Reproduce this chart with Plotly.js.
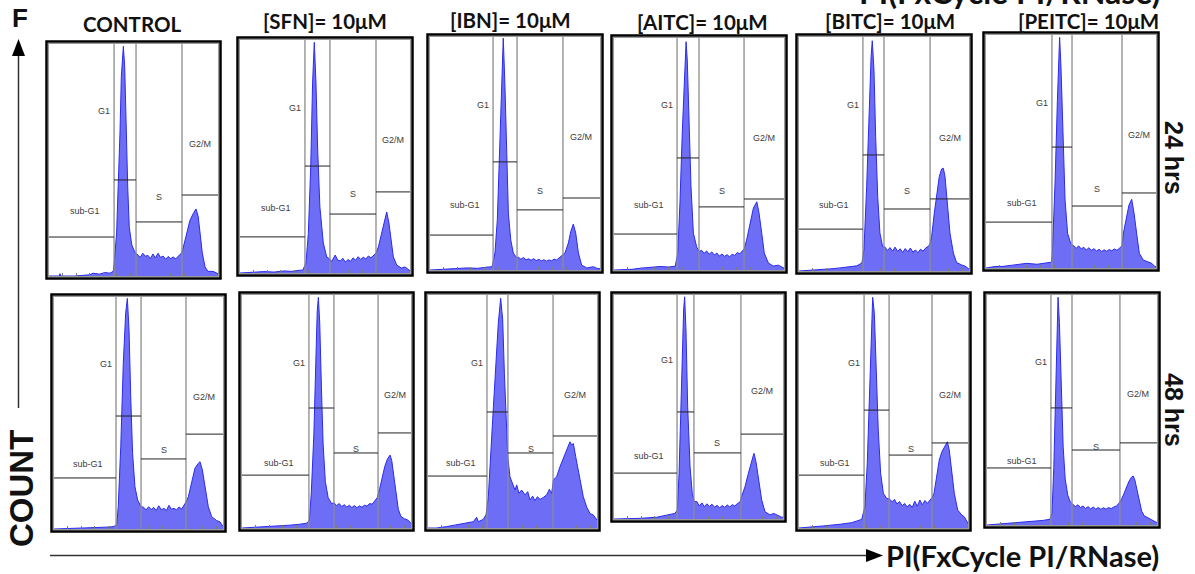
<!DOCTYPE html>
<html>
<head>
<meta charset="utf-8">
<script src="https://cdn.plot.ly/plotly-3.0.1.min.js"></script>
<style>
  html, body { margin: 0; padding: 0; background: #ffffff; }
  #fig { width: 1195px; height: 574px; }
</style>
</head>
<body>
<div id="fig"></div>
<script>
// ---- Column and row headings ----
const conditions = ['CONTROL', '[SFN]= 10μM', '[IBN]= 10μM', '[AITC]= 10μM', '[BITC]= 10μM', '[PEITC]= 10μM'];
const timepoints = ['24 hrs', '48 hrs'];
const gateNames = ['sub-G1', 'G1', 'S', 'G2/M'];
const axisLabelX = 'PI(FxCycle PI/RNase)';
const axisLabelY = 'COUNT';
const panelLetter = 'F';

// ---- DNA-content histograms: PI channel (0-100) vs. relative count (0-100) ----
// 24 h
const ctl24_ch = [0, 6, 6.5, 7, 15, 24, 26, 30, 33, 36, 38, 38.6, 40, 41, 42, 42.8, 44, 44.8, 45.6, 46.6, 47.5, 49, 50.9, 52, 54, 55.5, 57, 58.5, 60, 61.5, 63, 64.5, 66, 67.5, 69, 70.5, 72, 73.5, 75, 77, 78.5, 79.5, 81.5, 83.4, 85.4, 87, 88.3, 89.3, 90.7, 92.3, 94, 97, 99, 100];
const ctl24_ct = [0, 0, 1, 0, 0, 0.5, 1.2, 0.8, 1.5, 1.2, 2, 5.6, 18.5, 38, 61.6, 86, 99, 90, 61.6, 38, 21, 13.4, 10, 9.5, 8, 9.8, 8.5, 8.9, 7.5, 9.5, 7.8, 9.8, 8, 8.6, 7.2, 8.4, 7.5, 8.2, 7.4, 8.8, 10, 12.5, 18.5, 24, 27, 28.9, 25.6, 19.8, 10, 4, 2, 2, 1.5, 1];

const sfn24_ch = [0, 9, 14, 20, 26, 30, 34, 37, 38.8, 40.2, 41.6, 42.7, 43.7, 44.7, 45.7, 47, 49, 51, 52, 54, 56, 57.5, 59, 60.5, 62, 63.5, 65, 66.5, 68, 69.5, 71, 72.5, 74, 75.5, 77, 78.5, 80, 81.4, 83.3, 84.9, 86.3, 87.6, 88.8, 90.2, 92.2, 95, 97, 99, 100];
const sfn24_ct = [0, 0.3, 0.6, 0.4, 0.9, 0.7, 1.2, 1.3, 4.3, 17, 45.5, 81.5, 99, 81.5, 52.8, 28.3, 12.9, 6.9, 6.5, 5, 7.7, 5.5, 5.2, 6.3, 4.6, 5.8, 5, 6.5, 5.5, 7, 5.8, 6.8, 6, 7.3, 6.5, 7.5, 8.5, 11.2, 17, 22.7, 26.2, 21.5, 15.5, 6.9, 3.4, 2.1, 2.6, 1.5, 1];

const ibn24_ch = [0, 8, 15, 22, 28, 33, 36.5, 38.2, 39.6, 41.2, 42.2, 43.1, 44.1, 45.1, 46.1, 47.5, 49, 51, 52, 53.5, 55, 56.5, 58, 59.5, 61, 62.5, 64, 65.5, 67, 68.5, 70, 71.5, 73, 74.5, 76, 77.5, 79.4, 81.4, 82.8, 84.3, 85.7, 87.3, 89.2, 92.2, 94, 96, 98, 100];
const ibn24_ct = [0, 0.2, 0.6, 0.9, 0.7, 1.2, 1.4, 7.3, 21.5, 57, 86, 99.5, 78.7, 47.2, 24.4, 12.9, 7.3, 5.2, 5.5, 4.6, 5.4, 4.4, 4.8, 4.2, 4.9, 4, 4.6, 3.9, 4.4, 3.8, 4.3, 4, 4.6, 4.3, 5.2, 6.3, 7.3, 11.6, 16.5, 19.7, 15.9, 7.3, 2.1, 0.9, 1.1, 1.4, 0.8, 0.5];

const aitc24_ch = [0, 10.6, 16, 22, 27, 32, 36, 37.5, 38.8, 40.2, 41.4, 42.4, 43.1, 44.1, 45.3, 46.7, 48.6, 50, 51.5, 53, 54.5, 56, 57.5, 59, 60.5, 62, 63.5, 65, 66.5, 68, 69.5, 71, 72.5, 74, 75.5, 76.5, 78, 80, 82, 84, 85.3, 86.9, 88.4, 90.8, 93.7, 96.7, 98.6, 100];
const aitc24_ct = [0, 0.3, 0.8, 1.1, 1.5, 1.3, 1.6, 7.3, 28.9, 60, 86, 98.4, 90.5, 64.7, 35.9, 15.9, 10, 7.9, 8.5, 7.2, 8.2, 6.8, 7.8, 6.5, 7.3, 6, 6.9, 5.9, 6.6, 5.7, 6.8, 6.3, 7.5, 7, 8.2, 9, 12.9, 20.2, 26.7, 29.4, 24.6, 15.9, 7.3, 3, 1.7, 2.1, 1.2, 0.8];

const bitc24_ch = [0, 8, 14, 20, 25, 30, 34, 37, 38.2, 39.8, 41.2, 42.4, 43.1, 44.1, 45.1, 46.3, 47.6, 49.2, 50.5, 52, 53.5, 55, 56.5, 58, 59.5, 61, 62.5, 64, 65.5, 67, 68.5, 70, 71.5, 73, 74.5, 76, 77, 78, 79.6, 81, 82.5, 83.9, 84.9, 85.9, 87.2, 88.8, 90.8, 92.7, 95.7, 97.6, 99.6, 100];
const bitc24_ct = [0, 0.3, 0.7, 1, 1.4, 1.8, 2.2, 3.4, 9, 36, 67.5, 91.6, 98.4, 86, 57.4, 31.8, 16.2, 10.4, 10.3, 8.7, 10, 8.5, 10.2, 8.4, 9.5, 7.9, 9.6, 8.2, 9.8, 8.1, 9, 7.8, 9.3, 8.5, 9.8, 10.5, 11.5, 14.7, 24.8, 33.3, 40.3, 43.6, 43.9, 40.3, 29, 16.2, 7.7, 3.6, 2.6, 2.1, 1.1, 1];

const peitc24_ch = [0, 5, 10, 16, 24, 30, 35, 38.5, 39, 40.6, 42, 42.8, 43.3, 44.1, 45.1, 46.5, 48, 49.8, 51.5, 53, 54.5, 56, 57.5, 59, 60.5, 62, 63.5, 65, 66.5, 68, 69.5, 71, 72.5, 74, 75.5, 77, 78.5, 80, 80.8, 82.8, 84.1, 85.7, 87.1, 88.6, 90.2, 92.5, 95.5, 97.5, 99.4, 100];
const peitc24_ct = [0, 0.6, 0.7, 1.2, 2, 1.6, 2.2, 2.5, 6.3, 36.3, 72, 93.6, 99, 86.4, 57.8, 29.2, 14.9, 10.6, 9.6, 8.4, 9.5, 8.2, 8.9, 7.7, 8.7, 7.6, 8.3, 7.3, 8, 7.1, 7.8, 7.2, 7.9, 7.4, 8.2, 7.6, 8.5, 9.5, 14.9, 22, 27, 29.5, 23.5, 14.9, 6.3, 3.4, 2.7, 2, 0.6, 0.5];

// 48 h
const ctl48_ch = [0, 13.4, 20, 26, 31, 35, 37.1, 38, 39.5, 41, 42.4, 43.4, 44.4, 45.4, 46.5, 47.9, 49.5, 51.5, 53, 54.5, 56, 57.5, 59, 60.5, 62, 63.5, 65, 66.5, 68, 69.5, 71, 72.5, 74, 75.5, 77, 78, 79.5, 81.5, 83.4, 85.4, 86.4, 87.8, 89.3, 91.3, 93.3, 96.3, 98.2, 99.8, 100];
const ctl48_ct = [0, 0.3, 0.5, 0.4, 0.8, 1, 1.7, 9.6, 35.5, 71.4, 93, 99.4, 85.8, 57, 32.6, 18.2, 12.5, 9.6, 9.4, 8.2, 9.6, 8.4, 9.3, 8, 10, 8.3, 8.9, 8, 10.2, 8.5, 8.9, 8.2, 9.5, 8.6, 10.3, 11.5, 13.9, 21, 26.2, 28.3, 29, 25.4, 18.2, 9.6, 5.3, 3.6, 3.1, 1, 1];

const sfn48_ch = [0, 8, 15, 22, 28, 34, 38, 39.8, 41, 42.5, 43.5, 44.5, 45.2, 46, 47, 48, 49.3, 51, 53, 54.5, 56, 57.5, 59, 60.5, 62, 63.5, 65, 66.5, 68, 69.5, 71, 72.5, 74, 75.5, 77, 78.5, 80, 81.5, 83, 84.5, 86, 87.6, 88.6, 89.8, 91, 92.5, 94, 96, 98, 100];
const sfn48_ct = [0, 0.3, 0.6, 0.9, 1.2, 1.6, 2, 3, 15, 40, 70, 93, 99, 88, 60, 36, 20, 13, 10.5, 10.8, 9.6, 10.5, 9.2, 10, 9, 9.8, 8.8, 9.6, 8.7, 9.5, 8.9, 9.8, 9.4, 10.5, 10.2, 11.8, 13, 17, 22, 26.5, 29.5, 31.3, 29, 23, 15, 8, 5, 4, 3.5, 2];

const ibn48_ch = [0, 5, 11, 17, 23, 26.8, 28.8, 29.8, 32.7, 34.3, 35.7, 37.1, 38.7, 40.2, 41.6, 43, 44.2, 45.2, 46.2, 47.2, 48.5, 50.1, 51.5, 52.5, 53.8, 55.4, 57.4, 59, 60.4, 61.9, 63.3, 64.7, 66.3, 68.2, 70.2, 71.8, 73.2, 74.2, 76.1, 78.1, 79.7, 81.4, 83, 84, 85, 86, 87.4, 89, 90.5, 91.9, 93.9, 95.9, 97.8, 99.8, 100];
const ibn48_ct = [0, 0, 0.6, 1.3, 2.3, 2.7, 4.6, 2.7, 3.7, 5.6, 13.4, 29.2, 52, 70.7, 87.9, 98.6, 89.3, 66.4, 44.9, 30.6, 22, 19.2, 16.3, 18.5, 14.9, 16.3, 14.2, 15.6, 12, 13.7, 11.7, 13.4, 12.3, 13.1, 14.2, 16.6, 14.9, 20.6, 22, 26.3, 29.2, 32.1, 34.9, 37, 35.6, 36.3, 30.6, 24.9, 19.2, 13.4, 9, 6.2, 5.6, 3.4, 3.4];

const aitc48_ch = [0, 7.5, 15.4, 25.3, 33, 36, 37.5, 38.5, 39.5, 40.4, 41.2, 41.8, 42.6, 43.6, 45, 46.3, 47.5, 49, 50.5, 52, 53.5, 55, 56.5, 58, 59.5, 61, 62.5, 64, 65.5, 67, 68.5, 70, 71.5, 73, 74.5, 75.5, 77.5, 79.5, 81.5, 82.8, 84, 85.6, 87.4, 89.3, 92.3, 94.5, 96.3, 99.2, 100];
const aitc48_ct = [0, 0, 0.3, 0.8, 1.8, 2.5, 4, 20.4, 47.2, 74, 93.3, 99.2, 84.4, 50.1, 23.4, 11.5, 7.7, 7.8, 5.8, 7.2, 5.5, 6.8, 5.6, 6.6, 5.3, 6.1, 5, 6, 5.2, 6.3, 5.4, 6.4, 5.8, 6.9, 7.5, 10, 14.4, 20.4, 26.3, 29.3, 25.6, 17.4, 8.5, 3.3, 1.8, 2.5, 1.8, 0.8, 0.8];

const bitc48_ch = [0, 6.5, 14.4, 24.3, 31.2, 37.1, 39, 40.4, 41.6, 42.8, 43.6, 44.6, 45.6, 46.9, 48.3, 49.9, 51.9, 53.5, 55, 56.5, 58, 59.5, 61, 62.5, 64, 65.5, 67, 68.5, 70, 71.5, 73, 74.5, 76, 77.5, 78.7, 79.9, 81.5, 83, 84.6, 86.4, 87.8, 88.9, 90.4, 91.9, 93.9, 96.3, 97.8, 99.6, 100];
const bitc48_ct = [0, 0.3, 0.9, 1.6, 2.3, 3.7, 9.1, 27.8, 56.4, 85, 99, 92.1, 70.7, 42, 23.5, 14.9, 12.7, 12.5, 11.2, 12.3, 10.3, 11.4, 9.6, 10.5, 9, 10.2, 8.8, 11.5, 9.3, 12, 10, 11.8, 10.6, 12.2, 13, 14.9, 22, 29.2, 32.8, 34.9, 37, 33.5, 23.5, 14.9, 7.7, 5.6, 4.8, 2, 2];

const peitc48_ch = [0, 5, 15, 25, 33, 37, 38.2, 39.3, 40.3, 41.2, 41.8, 42.6, 43.6, 44.8, 46, 47.5, 49, 50.5, 52, 53.5, 55, 56.5, 58, 59.5, 61, 62.5, 64, 65.5, 67, 68.5, 70, 71.5, 73, 74.5, 76, 77.5, 79, 80.5, 82, 83.5, 85, 86, 87, 88.3, 89.5, 91, 92.5, 95, 97, 99, 100];
const peitc48_ct = [0, 0.3, 0.8, 1.5, 2, 2.5, 5, 25, 60, 88, 99, 88, 60, 34, 20, 13, 10, 9, 8, 8.8, 7.6, 8.3, 7.2, 8, 7, 7.8, 6.9, 7.6, 6.8, 7.5, 6.9, 7.6, 7.1, 7.8, 8.2, 9.3, 11, 13.5, 16.5, 19, 20.8, 21.3, 19.5, 15, 10, 6, 4, 3, 2.5, 1.5, 1];

// ---- Gate boundaries on the PI channel: [sub-G1|G1, G1|S, S|G2/M] ----
const ctl24_gates = [38.5, 51.5, 78.7],  sfn24_gates = [38.2, 52.9, 80],   ibn24_gates = [37.1, 51.2, 78.2];
const aitc24_gates = [37.1, 50, 76.5],   bitc24_gates = [37.6, 50, 77.1],  peitc24_gates = [38.8, 50.6, 80];
const ctl48_gates = [36.7, 51.5, 78.1],  sfn48_gates = [39.6, 54.4, 80.5], ibn48_gates = [34.9, 47.3, 74];
const aitc48_gates = [37.3, 47.3, 75.1], bitc48_gates = [38.5, 53.3, 78.7], peitc48_gates = [37.6, 50, 78.2];

// ---- Gate marker levels (count axis): [sub-G1, G1, S, G2/M] ----
const ctl24_levels = [16.8, 41.4, 23.3, 34.9],  sfn24_levels = [15.5, 45.9, 25.3, 34.8], ibn24_levels = [15, 46.4, 25.8, 30.9];
const aitc24_levels = [15.5, 48.3, 27.2, 30.6], bitc24_levels = [17.9, 49.6, 26.5, 30.8], peitc24_levels = [19.7, 51.9, 26.6, 32.2];
const ctl48_levels = [22, 48.7, 30.2, 40.9],    sfn48_levels = [22.7, 51.5, 32.2, 40.8], ibn48_levels = [22.3, 49.8, 32.2, 39.5];
const aitc48_levels = [20.5, 47.8, 29.5, 37.9], bitc48_levels = [22.7, 50.6, 31.3, 36.5], peitc48_levels = [24.8, 50.9, 32.6, 35.7];

const panels = [
  { ch: ctl24_ch,  ct: ctl24_ct,  gates: ctl24_gates,  levels: ctl24_levels },
  { ch: sfn24_ch,  ct: sfn24_ct,  gates: sfn24_gates,  levels: sfn24_levels },
  { ch: ibn24_ch,  ct: ibn24_ct,  gates: ibn24_gates,  levels: ibn24_levels },
  { ch: aitc24_ch, ct: aitc24_ct, gates: aitc24_gates, levels: aitc24_levels },
  { ch: bitc24_ch, ct: bitc24_ct, gates: bitc24_gates, levels: bitc24_levels },
  { ch: peitc24_ch, ct: peitc24_ct, gates: peitc24_gates, levels: peitc24_levels },
  { ch: ctl48_ch,  ct: ctl48_ct,  gates: ctl48_gates,  levels: ctl48_levels },
  { ch: sfn48_ch,  ct: sfn48_ct,  gates: sfn48_gates,  levels: sfn48_levels },
  { ch: ibn48_ch,  ct: ibn48_ct,  gates: ibn48_gates,  levels: ibn48_levels },
  { ch: aitc48_ch, ct: aitc48_ct, gates: aitc48_gates, levels: aitc48_levels },
  { ch: bitc48_ch, ct: bitc48_ct, gates: bitc48_gates, levels: bitc48_levels },
  { ch: peitc48_ch, ct: peitc48_ct, gates: peitc48_gates, levels: peitc48_levels }
];

// ---- Page geometry (pixels): plot box of each histogram [left, right, top, bottom] ----
const W = 1195, H = 574;
const frames = [
  [49, 218, 44, 276], [240, 410, 40, 273], [430, 600, 37, 270],
  [614, 784, 38, 270], [799, 969, 37, 271], [986, 1156, 35, 268],
  [54, 223, 297, 529], [242, 411, 295, 528], [428, 597, 295, 528],
  [614, 783, 295, 519], [799, 968, 295, 528], [987, 1157, 295, 525]
];
const fx = p => p / W;
const fy = p => 1 - p / H;

const traces = [];
const shapes = [];
const annotations = [];
const layout = {
  width: W, height: H,
  margin: { l: 0, r: 0, t: 0, b: 0 },
  paper_bgcolor: '#ffffff', plot_bgcolor: '#ffffff',
  showlegend: false,
  shapes: shapes, annotations: annotations
};

const gateLabelFont = { family: 'Liberation Sans, Arial, sans-serif', size: 9, color: '#3c3c3c' };

panels.forEach((p, i) => {
  const n = i + 1;
  const xa = n === 1 ? 'x' : 'x' + n;
  const ya = n === 1 ? 'y' : 'y' + n;
  const [L, R, T, B] = frames[i];

  layout[n === 1 ? 'xaxis' : 'xaxis' + n] = {
    domain: [fx(L), fx(R)], range: [0, 100], anchor: ya,
    showgrid: false, zeroline: false, showticklabels: false,
    ticks: 'inside', ticklen: 3, tickwidth: 1, tickcolor: '#7a7a7a', tick0: 0, dtick: 8,
    showline: true, linecolor: '#9a9a9a', linewidth: 1, mirror: true, fixedrange: true
  };
  layout[n === 1 ? 'yaxis' : 'yaxis' + n] = {
    domain: [fy(B), fy(T)], range: [0, 100], anchor: xa,
    showgrid: false, zeroline: false, showticklabels: false, ticks: '',
    showline: true, linecolor: '#9a9a9a', linewidth: 1, mirror: true, fixedrange: true
  };

  traces.push({
    type: 'scatter', mode: 'lines', x: p.ch, y: p.ct, xaxis: xa, yaxis: ya,
    fill: 'tozeroy', fillcolor: '#6d6df5', line: { color: '#2b2bf0', width: 1 },
    hoverinfo: 'skip'
  });

  const [g1, g2, g3] = p.gates;
  const [lSub, lG1, lS, lG2] = p.levels;

  // vertical gate boundaries
  [g1, g2, g3].forEach(g => shapes.push({
    type: 'line', xref: xa, yref: ya + ' domain', x0: g, x1: g, y0: 0, y1: 1,
    line: { color: '#8c8c8c', width: 1.3 }
  }));
  // horizontal gate markers
  const marker = (a, b, lev) => shapes.push({
    type: 'line', xref: xa, yref: ya, x0: a, x1: b, y0: lev, y1: lev,
    line: { color: '#222222', width: 1 }
  });
  marker(0, g1, lSub); marker(g1, g2, lG1); marker(g2, g3, lS); marker(g3, 100, lG2);

  // gate names
  const lab = (text, x, y, xanchor) => annotations.push({
    text: text, xref: xa, yref: ya, x: x, y: y, xanchor: xanchor, yanchor: 'middle',
    showarrow: false, font: gateLabelFont
  });
  lab(gateNames[0], g1 / 2 + 2, 28, 'center');
  lab(gateNames[1], g1 - 1, 71, 'right');
  lab(gateNames[2], (g2 + g3) / 2, 34, 'center');
  lab(gateNames[3], (g3 + 100) / 2, 57, 'center');

  // outer panel border
  shapes.push({
    type: 'rect', xref: 'paper', yref: 'paper',
    x0: fx(L - 2.5), x1: fx(R + 2.5), y0: fy(B + 2.5), y1: fy(T - 2.5),
    line: { color: '#000000', width: 2.5 }
  });
});

// ---- headings ----
const titleFont = { family: 'Lato, Carlito, sans-serif', size: 20.5, color: '#111111' };
const titleCenters = [[132, 24], [325, 21], [510, 20], [702, 22], [890, 21], [1088, 21]];
conditions.forEach((c, i) => annotations.push({
  text: '<b>' + c + '</b>', xref: 'paper', yref: 'paper',
  x: fx(titleCenters[i][0]), y: fy(titleCenters[i][1]), xanchor: 'center', yanchor: 'middle',
  showarrow: false, font: titleFont
}));

const arialBold = (size) => ({ family: 'Liberation Sans, Arial, sans-serif', size: size, color: '#111111' });
const rowCenters = [[1174, 158], [1174, 410]];
timepoints.forEach((t, i) => annotations.push({
  text: '<b>' + t + '</b>', xref: 'paper', yref: 'paper',
  x: fx(rowCenters[i][0]), y: fy(rowCenters[i][1]), xanchor: 'center', yanchor: 'middle',
  textangle: 90, showarrow: false, font: arialBold(25)
}));

annotations.push({
  text: '<b>' + panelLetter + '</b>', xref: 'paper', yref: 'paper', x: fx(20), y: fy(18),
  xanchor: 'center', yanchor: 'middle', showarrow: false, font: arialBold(26)
});
annotations.push({
  text: '<b>' + axisLabelY + '</b>', xref: 'paper', yref: 'paper', x: fx(21), y: fy(489),
  xanchor: 'center', yanchor: 'middle', textangle: -90, showarrow: false, font: arialBold(33)
});
annotations.push({
  text: '<b>' + axisLabelX + '</b>', xref: 'paper', yref: 'paper', x: fx(884), y: fy(555),
  xanchor: 'left', yanchor: 'middle', showarrow: false,
  font: { family: 'Lato, Carlito, sans-serif', size: 29, color: '#111111' }
});
// repeated axis caption running off the top edge
annotations.push({
  text: '<b>' + axisLabelX + '</b>', xref: 'paper', yref: 'paper', x: fx(1009), y: fy(-9),
  xanchor: 'center', yanchor: 'middle', showarrow: false,
  font: { family: 'Lato, Carlito, sans-serif', size: 32, color: '#111111' }
});

// ---- axis arrows ----
shapes.push({ type: 'line', xref: 'paper', yref: 'paper', x0: fx(18.5), x1: fx(18.5), y0: fy(408), y1: fy(54),
  line: { color: '#333333', width: 1.5 } });
shapes.push({ type: 'path', xref: 'paper', yref: 'paper',
  path: `M ${fx(18.5)},${fy(39)} L ${fx(12)},${fy(56)} L ${fx(25)},${fy(56)} Z`,
  fillcolor: '#000000', line: { color: '#000000', width: 0 } });
shapes.push({ type: 'line', xref: 'paper', yref: 'paper', x0: fx(50), x1: fx(868), y0: fy(555.5), y1: fy(555.5),
  line: { color: '#333333', width: 1.5 } });
shapes.push({ type: 'path', xref: 'paper', yref: 'paper',
  path: `M ${fx(883)},${fy(555.5)} L ${fx(866)},${fy(549)} L ${fx(866)},${fy(562)} Z`,
  fillcolor: '#000000', line: { color: '#000000', width: 0 } });

Plotly.newPlot('fig', traces, layout, { displayModeBar: false, staticPlot: true });
</script>
</body>
</html>
